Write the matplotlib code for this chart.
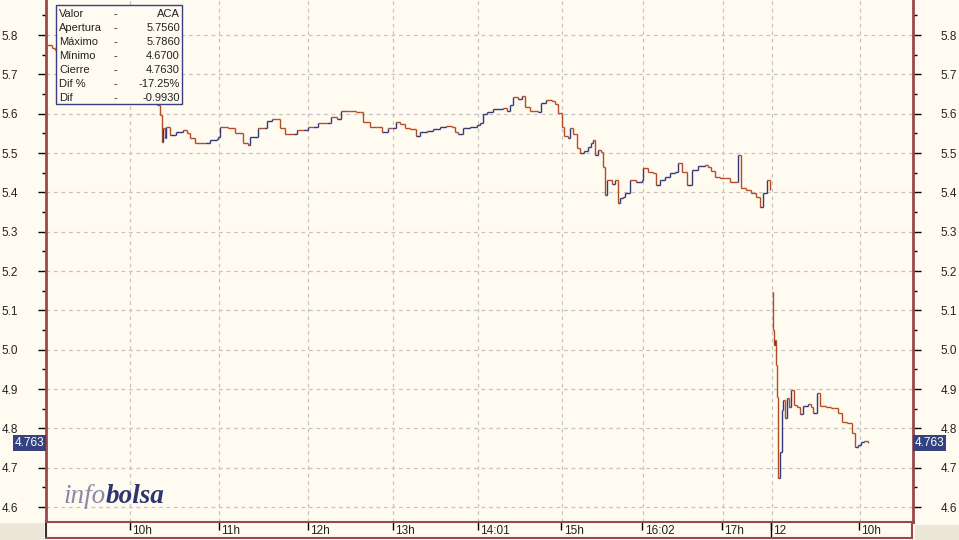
import matplotlib
matplotlib.use('Agg')
import matplotlib.pyplot as plt
import matplotlib.transforms as mtrans
from matplotlib.collections import LineCollection
from matplotlib.patches import Rectangle

#
#--- price series (x = session minutes on the chart time scale, y = price in euros)
#
day1_min = [4.8, 8.3, 10.3, 40.0, 70.0, 80.7, 82.8, 84.1, 84.8, 86.2, 86.9, 89.7, 93.8, 98.6,
            101.4, 103.4, 106.9, 113.8, 117.2, 122.1, 122.8, 124.1, 129.7, 134.5, 140.0,
            143.4, 144.8, 150.3, 154.5, 156.6, 160.0, 163.5, 165.5, 169.0, 174.5, 177.2,
            181.4, 184.8, 188.3, 191.7, 197.9, 200.7, 204.8, 207.6, 213.8, 217.9, 220.7,
            222.8, 227.6, 232.4, 235.9, 240.0, 242.8, 245.5, 248.3, 251.7, 255.2, 259.3,
            262.1, 266.9, 271.0, 275.9, 280.0, 284.1, 286.2, 288.3, 291.7, 296.6, 301.4,
            303.4, 305.5, 308.3, 312.4, 319.3, 322.1, 324.1, 326.2, 329.7, 332.4, 334.5,
            337.9, 343.4, 345.5, 349.0, 353.1, 355.2, 357.2, 360.0, 361.4, 364.1, 365.5,
            367.6, 370.3, 372.4, 375.2, 377.9, 380.0, 381.4, 382.8, 384.8, 386.9, 388.3,
            389.7, 391.0, 394.5, 396.6, 398.6, 400.0, 402.1, 403.5, 406.9, 411.0, 415.2,
            415.9, 419.3, 422.8, 424.8, 427.6, 431.0, 434.5, 437.9, 440.0, 442.8, 446.2,
            449.7, 453.8, 458.6, 460.7, 462.8, 465.5, 469.0, 472.4, 475.9, 480.7, 481.4,
            483.5, 487.0, 490.3, 493.8, 496.6, 498.6, 501.4, 503.4]
day1_price = [5.775, 5.767, 5.762, 5.72, 5.66, 5.622, 5.597, 5.528, 5.564, 5.538, 5.566, 5.546,
              5.553, 5.558, 5.551, 5.538, 5.525, 5.525, 5.533, 5.536, 5.541, 5.566, 5.564,
              5.551, 5.525, 5.520, 5.541, 5.564, 5.564, 5.581, 5.586, 5.586, 5.564, 5.548,
              5.548, 5.558, 5.558, 5.566, 5.566, 5.576, 5.576, 5.592, 5.586, 5.607, 5.607,
              5.604, 5.604, 5.579, 5.566, 5.566, 5.553, 5.564, 5.564, 5.579, 5.574, 5.564,
              5.561, 5.543, 5.553, 5.556, 5.561, 5.566, 5.569, 5.566, 5.553, 5.548, 5.564,
              5.566, 5.571, 5.576, 5.599, 5.604, 5.612, 5.614, 5.607, 5.622, 5.642, 5.637,
              5.645, 5.617, 5.607, 5.604, 5.627, 5.635, 5.632, 5.625, 5.602, 5.566, 5.543,
              5.538, 5.564, 5.548, 5.513, 5.500, 5.505, 5.515, 5.525, 5.533, 5.495, 5.508,
              5.502, 5.464, 5.393, 5.431, 5.421, 5.431, 5.373, 5.386, 5.388, 5.398, 5.431,
              5.426, 5.431, 5.462, 5.452, 5.449, 5.419, 5.431, 5.439, 5.449, 5.452, 5.475,
              5.452, 5.419, 5.457, 5.467, 5.469, 5.464, 5.454, 5.439, 5.436, 5.436, 5.426,
              5.426, 5.495, 5.411, 5.406, 5.398, 5.388, 5.363, 5.398, 5.431, 5.406]

day2_min = [504.8, 505.5, 506.2, 506.9, 507.6, 508.3, 509.0, 510.3, 511.7, 512.4, 513.8, 515.2,
            516.6, 517.9, 520.0, 522.1, 524.1, 526.2, 529.7, 531.7, 533.1, 535.9, 537.9,
            542.1, 545.5, 547.6, 550.3, 553.1, 556.6, 560.0, 562.1, 564.1, 566.2, 568.3, 571.0]
day2_price = [5.147, 5.050, 5.012, 5.025, 4.961, 4.880, 4.674, 4.740, 4.847, 4.872, 4.826,
              4.877, 4.854, 4.897, 4.859, 4.854, 4.836, 4.857, 4.862, 4.854, 4.839, 4.890,
              4.857, 4.854, 4.852, 4.852, 4.839, 4.816, 4.813, 4.788, 4.752, 4.757, 4.765,
              4.768, 4.763]

tick_min    = [62.1, 123.4, 184.8, 243.4, 302.1, 360.0, 415.9, 471.0, 504.8, 565.5]
tick_labels = ['10h', '11h', '12h', '13h', '14:01', '15h', '16:02', '17h', '12', '10h']
day_break   = 504.8

info_names  = ['Valor', 'Apertura', u'M\u00e1ximo', u'M\u00ednimo', 'Cierre', 'Dif %', 'Dif']
info_values = ['ACA', '5.7560', '5.7860', '4.6700', '4.7630', '-17.25%', '-0.9930']
last_price  = 4.763

#
#--- colours
#
cream  = '#fffbf0'
border = '#9a4848'
navy   = '#34427f'
up_c   = '#35397a'
dn_c   = '#b84a22'
grid_c = '#c4c4c4'

W, H = 959.0, 540.0

plt.rcParams['font.family'] = ['Liberation Sans', 'DejaVu Sans']
plt.rcParams['font.size']   = 8

fig = plt.figure(figsize=(9.59, 5.40), dpi=100, facecolor=cream)

#
#--- main price panel
#
ax = fig.add_axes([46 / W, 18 / H, 867 / W, 522 / H], facecolor=cream)
ax.set_xlim(4.1, 602.0)
ax.set_ylim(4.562, 5.889)


def step_segments(x, p):
    """
    build step segments of a tick line, blue when price goes up, red when down
    """
    segs = []
    cols = []
    for i in range(len(x) - 1):
        c = up_c if p[i + 1] > p[i] else dn_c
        segs.append([(x[i], p[i]), (x[i + 1], p[i])])
        cols.append(c)
        segs.append([(x[i + 1], p[i]), (x[i + 1], p[i + 1])])
        cols.append(c)
    return segs, cols


for xs, ps in [(day1_min, day1_price), (day2_min, day2_price)]:
    segs, cols = step_segments(xs, ps)
    ax.add_collection(LineCollection(segs, colors=cols, linewidths=1.0, zorder=3))

#
#--- grid, ticks and frame
#
yt = [4.6 + 0.1 * i for i in range(13)]
ax.set_yticks(yt)
ax.set_yticklabels(['%.1f' % v for v in yt])
ax.set_yticks([4.65 + 0.1 * i for i in range(13)], minor=True)
ax.set_xticks(tick_min)
ax.tick_params(axis='x', which='both', bottom=False, labelbottom=False)
ax.tick_params(axis='y', which='major', left=True, right=True, labelleft=True, labelright=True,
               direction='out', length=6, width=1, color='black', pad=14, labelsize=8.5)
ax.tick_params(axis='y', which='minor', left=True, right=True, direction='out',
               length=3, width=1, color='black')
for lab in ax.get_yticklabels():
    lab.set_color('#222222')
ax.grid(True, which='major', color=grid_c, linestyle=(0, (3, 3)), linewidth=0.9)
ax.set_axisbelow(True)

for side in ['left', 'right', 'bottom']:
    ax.spines[side].set_color(border)
    ax.spines[side].set_linewidth(2)
ax.spines['top'].set_visible(False)

#
#--- last price boxes on both sides
#
ytr = mtrans.blended_transform_factory(ax.transAxes, ax.transData)
ax.text(-2 / 867.0, last_price, '%.3f' % last_price, transform=ytr, ha='right', va='center',
        color='white', fontsize=8.5, clip_on=False, zorder=6,
        bbox=dict(boxstyle='square,pad=0.15', facecolor=navy, edgecolor='none'))
ax.text(1 + 2 / 867.0, last_price, '%.3f' % last_price, transform=ytr, ha='left', va='center',
        color='white', fontsize=8.5, clip_on=False, zorder=6,
        bbox=dict(boxstyle='square,pad=0.15', facecolor=navy, edgecolor='none'))

#
#--- information box (top left)
#
bx0, by0, bw, bh = (56 - 46) / 867.0, 1 - 104 / 522.0, 126 / 867.0, 99 / 522.0
ax.add_patch(Rectangle((bx0, by0), bw, bh, transform=ax.transAxes, facecolor=cream,
                       edgecolor=navy, linewidth=1, zorder=8, clip_on=False))
for i in range(len(info_names)):
    yy = 1 - (14 + 14 * i) / 522.0
    ax.text((59 - 46) / 867.0, yy, info_names[i], transform=ax.transAxes, ha='left',
            va='center', fontsize=8, color='#222222', zorder=9)
    ax.text((113 - 46) / 867.0, yy, '-', transform=ax.transAxes, ha='left',
            va='center', fontsize=8, color='#222222', zorder=9)
    ax.text((180 - 46) / 867.0, yy, info_values[i], transform=ax.transAxes, ha='right',
            va='center', fontsize=8, color='#222222', zorder=9)

#
#--- infobolsa logo
#
logo = ax.text((63 - 46) / 867.0, 1 - 503 / 522.0, 'info', transform=ax.transAxes,
               fontsize=19.5, family='Liberation Serif', style='italic', color='#8a8aa8',
               ha='left', va='baseline', zorder=2)
fig.canvas.draw()
ext = logo.get_window_extent()
inv = ax.transAxes.inverted()
x_end = inv.transform((ext.x1, ext.y0))[0]
ax.text(x_end, 1 - 503 / 522.0, 'bolsa', transform=ax.transAxes, fontsize=19.5,
        family='Liberation Serif', style='italic', weight='bold', color='#2e3670',
        ha='left', va='baseline', zorder=2)

#
#--- time axis strip
#
ax2 = fig.add_axes([46 / W, 2 / H, 866 / W, 16 / H], facecolor=cream)
ax2.set_xlim(4.1, 602.0)
ax2.set_ylim(0, 1)
ax2.set_yticks([])
ax2.set_xticks(tick_min)
ax2.set_xticklabels([])
ax2.tick_params(axis='x', bottom=False, top=True, direction='in', length=6, width=1,
                color='black')
for side in ['top', 'bottom', 'right']:
    ax2.spines[side].set_color(border)
    ax2.spines[side].set_linewidth(1.5)
ax2.spines['left'].set_color('#333333')
ax2.spines['left'].set_linewidth(1.5)
ax2.axvline(day_break, color='black', linewidth=1)
xtr = mtrans.blended_transform_factory(ax2.transData, ax2.transAxes)
for xp, lab in zip(tick_min, tick_labels):
    ax2.text(xp + 1.5, 0.42, lab, transform=xtr, ha='left', va='center', fontsize=8.5,
             color='#222222')

#
#--- grey corners below the chart
#
fig.patches.append(Rectangle((0, 0), 44 / W, 17 / H, transform=fig.transFigure,
                             facecolor='#ebe8da', edgecolor='none', zorder=0))
fig.patches.append(Rectangle((915 / W, 0), 44 / W, 15 / H, transform=fig.transFigure,
                             facecolor='#ebe8da', edgecolor='none', zorder=0))

plt.savefig('out.png', dpi=100, facecolor=cream)
